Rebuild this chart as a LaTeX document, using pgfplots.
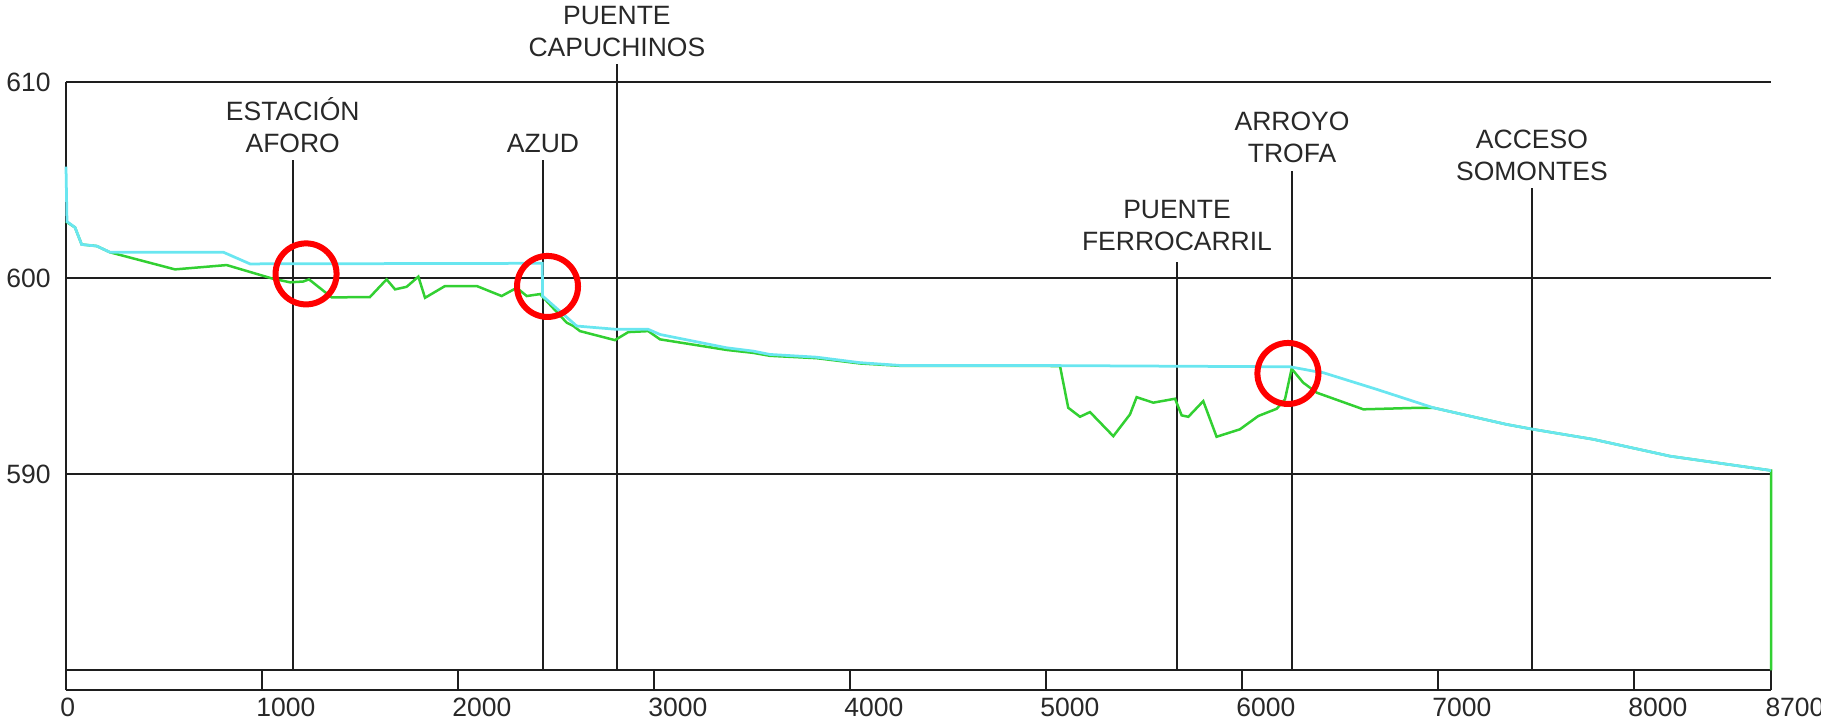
\documentclass[border=0pt]{standalone}
\usepackage{pgfplots}
\pgfplotsset{compat=1.18}
\usepackage{fontspec}
\setmainfont{Liberation Sans}
\definecolor{cyanline}{RGB}{105,230,240}
\definecolor{greenline}{RGB}{50,208,50}
\definecolor{txt}{RGB}{40,40,40}
\definecolor{ln}{RGB}{30,30,30}
\tikzset{lbl/.style={anchor=south, inner sep=0pt, align=center,
    font=\fontsize{10.6}{13}\selectfont, text=txt}}
\begin{document}
\begin{tikzpicture}
\begin{axis}[
  at={(26.4pt,13.6pt)}, anchor=south west,
  scale only axis, width=682pt, height=243.04pt,
  xmin=0, xmax=8700, ymin=579, ymax=610,
  clip=false,
  axis x line=bottom, axis y line=left,
  axis line style={-, draw=ln, line width=0.8pt},
  xtick={0,1000,2000,3000,4000,5000,6000,7000,8000,8700},
  xticklabels={0,1000,2000,3000,4000,5000,6000,7000,8000,8700},
  tick align=inside, major tick length=7.84pt,
  xtick style={draw=ln, line width=0.7pt},
  ytick={590,600,610}, yticklabels={590,600,610},
  ytick style={draw=none},
  ymajorgrids, grid style={draw=ln, line width=0.8pt},
  extra y ticks={580}, extra y tick labels={},
  extra y tick style={grid=major, major tick length=0pt},
  xticklabel style={anchor=north west, inner sep=0pt, xshift=-2.4pt, yshift=-2.8pt,
    font=\fontsize{10.6}{13}\selectfont, text=txt},
  yticklabel style={anchor=east, inner sep=0pt, xshift=-6pt,
    font=\fontsize{10.6}{13}\selectfont, text=txt},
]
% landmark lines
\addplot[ln, line width=0.75pt, forget plot] coordinates {(1157,580) (1157,606.02)};
\addplot[ln, line width=0.75pt, forget plot] coordinates {(2434,580) (2434,606.02)};
\addplot[ln, line width=0.75pt, forget plot] coordinates {(2811,580) (2811,610.92)};
\addplot[ln, line width=0.75pt, forget plot] coordinates {(5669,580) (5669,600.82)};
\addplot[ln, line width=0.75pt, forget plot] coordinates {(6256,580) (6256,605.46)};
\addplot[ln, line width=0.75pt, forget plot] coordinates {(7480,580) (7480,604.59)};
% bed (green)
\addplot[greenline, line width=1pt] coordinates {
(0,602.9) (46,602.6) (80,601.73) (157,601.65) (225,601.33) (556,600.46) (820,600.68)
(1050,600.00) (1143,599.80) (1210,599.84) (1240,599.95) (1356,599.03) (1551,599.05)
(1636,599.95) (1679,599.44) (1738,599.57) (1798,600.09) (1832,599.01) (1934,599.61)
(2096,599.61) (2223,599.10) (2300,599.52) (2351,599.10) (2419,599.20) (2555,597.74)
(2589,597.57) (2623,597.31) (2801,596.85) (2869,597.26) (2971,597.31) (3031,596.89)
(3371,596.35) (3507,596.20) (3592,596.05) (3830,595.93) (4051,595.66) (4256,595.54)
(5072,595.53) (5114,593.40) (5174,592.94) (5225,593.18) (5344,591.95) (5429,593.06)
(5463,593.94) (5548,593.66) (5659,593.86) (5693,593.01) (5727,592.94) (5803,593.74)
(5871,591.92) (5990,592.30) (6084,592.98) (6178,593.35) (6220,593.83) (6254,595.39)
(6313,594.68) (6382,594.17) (6620,593.32) (6909,593.40) (6977,593.40) (7351,592.55)
(7487,592.30) (7793,591.79) (8185,590.93) (8700,590.20) (8700,580)
};
% water surface (cyan)
\addplot[cyanline, line width=1.1pt] coordinates {
(0,605.7) (5,602.9) (46,602.6) (80,601.73) (157,601.65) (225,601.33) (250,601.34)
(802,601.34) (939,600.74) (2430,600.77) (2432,599.10) (2606,597.57) (2810,597.40)
(2971,597.40) (3031,597.14) (3371,596.46) (3507,596.29) (3592,596.12) (3830,595.98)
(4051,595.70) (4256,595.56) (5072,595.55) (6246,595.49) (6365,595.27) (6415,595.19)
(6688,594.34) (6977,593.40) (7351,592.55) (7487,592.30) (7793,591.79) (8185,590.93)
(8700,590.20)
};
% red circles
\addplot[only marks, mark=o, mark size=12.2pt, mark options={draw=red, line width=2.4pt}]
 coordinates {(1225,600.23) (2457,599.59) (6235,595.15)};
% labels
\node[lbl, yshift=2.8pt] at (axis cs:1157,606.02) {ESTACIÓN\\AFORO};
\node[lbl, yshift=2.8pt] at (axis cs:2434,606.02) {AZUD};
\node[lbl, yshift=2.8pt] at (axis cs:2811,610.92) {PUENTE\\CAPUCHINOS};
\node[lbl, yshift=4.4pt] at (axis cs:5669,600.82) {PUENTE\\FERROCARRIL};
\node[lbl, yshift=3.2pt] at (axis cs:6256,605.46) {ARROYO\\TROFA};
\node[lbl, yshift=2.8pt] at (axis cs:7480,604.59) {ACCESO\\SOMONTES};
\end{axis}
\pgfresetboundingbox
\path (0,0) rectangle (728.4pt,289.6pt);
\end{tikzpicture}
\end{document}
